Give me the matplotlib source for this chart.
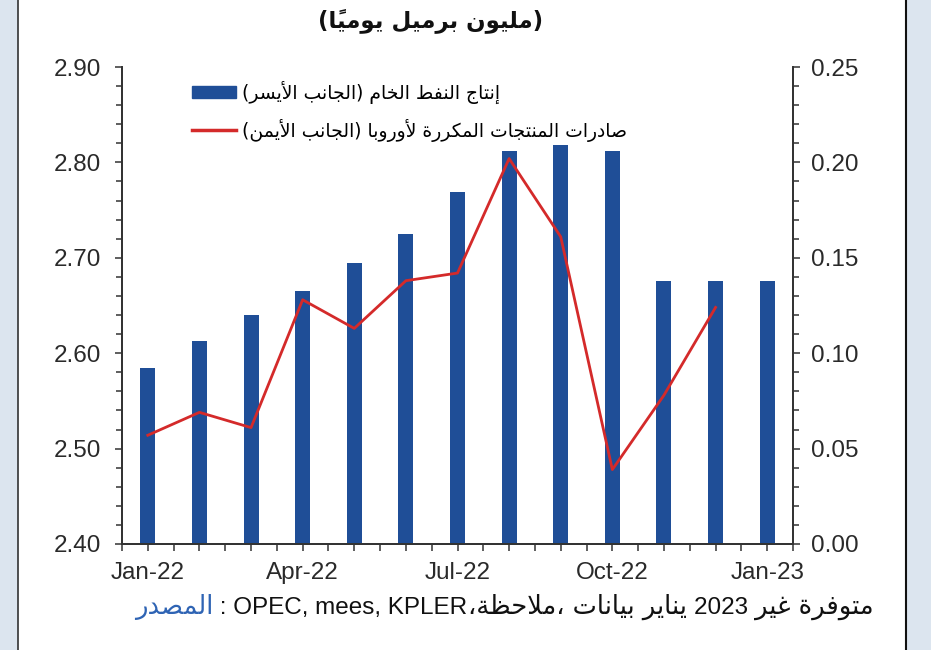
import numpy as np
import matplotlib
matplotlib.use("Agg")
import matplotlib.pyplot as plt
from matplotlib.patches import Rectangle
from matplotlib.lines import Line2D
from matplotlib.ticker import MultipleLocator
from matplotlib.font_manager import FontProperties

# ---------------- data ----------------
months = ["Jan-22", "Feb-22", "Mar-22", "Apr-22", "May-22", "Jun-22", "Jul-22",
          "Aug-22", "Sep-22", "Oct-22", "Nov-22", "Dec-22", "Jan-23"]
crude_production = [2.584, 2.613, 2.640, 2.665, 2.695, 2.725, 2.769,
                    2.812, 2.818, 2.812, 2.676, 2.676, 2.676]
europe_exports = [0.057, 0.069, 0.061, 0.128, 0.113, 0.138, 0.142,
                  0.202, 0.161, 0.039, 0.078, 0.124, np.nan]
shown_month_labels = ["Jan-22", "Apr-22", "Jul-22", "Oct-22", "Jan-23"]
left_ticks = [2.40, 2.50, 2.60, 2.70, 2.80, 2.90]
right_ticks = [0.00, 0.05, 0.10, 0.15, 0.20, 0.25]

title_text = "(مليون برميل يوميا\u064b)"
legend_bar = "إنتاج النفط الخام (الجانب الأيسر)"
legend_line = "صادرات المنتجات المكررة لأوروبا (الجانب الأيمن)"
source_label = "المصدر"
source_names = "OPEC, mees, KPLER"
source_words = ["ملاحظة", "بيانات", "يناير", "غير", "متوفرة"]
source_year = "2023"

# ---------------- simple Arabic shaping (presentation forms) ----------------
_FORMS = {
    'ء': ('\uFE80',), 'آ': ('\uFE81', '\uFE82'), 'أ': ('\uFE83', '\uFE84'),
    'ؤ': ('\uFE85', '\uFE86'), 'إ': ('\uFE87', '\uFE88'),
    'ئ': ('\uFE89', '\uFE8A', '\uFE8B', '\uFE8C'), 'ا': ('\uFE8D', '\uFE8E'),
    'ب': ('\uFE8F', '\uFE90', '\uFE91', '\uFE92'), 'ة': ('\uFE93', '\uFE94'),
    'ت': ('\uFE95', '\uFE96', '\uFE97', '\uFE98'), 'ث': ('\uFE99', '\uFE9A', '\uFE9B', '\uFE9C'),
    'ج': ('\uFE9D', '\uFE9E', '\uFE9F', '\uFEA0'), 'ح': ('\uFEA1', '\uFEA2', '\uFEA3', '\uFEA4'),
    'خ': ('\uFEA5', '\uFEA6', '\uFEA7', '\uFEA8'), 'د': ('\uFEA9', '\uFEAA'),
    'ذ': ('\uFEAB', '\uFEAC'), 'ر': ('\uFEAD', '\uFEAE'), 'ز': ('\uFEAF', '\uFEB0'),
    'س': ('\uFEB1', '\uFEB2', '\uFEB3', '\uFEB4'), 'ش': ('\uFEB5', '\uFEB6', '\uFEB7', '\uFEB8'),
    'ص': ('\uFEB9', '\uFEBA', '\uFEBB', '\uFEBC'), 'ض': ('\uFEBD', '\uFEBE', '\uFEBF', '\uFEC0'),
    'ط': ('\uFEC1', '\uFEC2', '\uFEC3', '\uFEC4'), 'ظ': ('\uFEC5', '\uFEC6', '\uFEC7', '\uFEC8'),
    'ع': ('\uFEC9', '\uFECA', '\uFECB', '\uFECC'), 'غ': ('\uFECD', '\uFECE', '\uFECF', '\uFED0'),
    'ف': ('\uFED1', '\uFED2', '\uFED3', '\uFED4'), 'ق': ('\uFED5', '\uFED6', '\uFED7', '\uFED8'),
    'ك': ('\uFED9', '\uFEDA', '\uFEDB', '\uFEDC'), 'ل': ('\uFEDD', '\uFEDE', '\uFEDF', '\uFEE0'),
    'م': ('\uFEE1', '\uFEE2', '\uFEE3', '\uFEE4'), 'ن': ('\uFEE5', '\uFEE6', '\uFEE7', '\uFEE8'),
    'ه': ('\uFEE9', '\uFEEA', '\uFEEB', '\uFEEC'), 'و': ('\uFEED', '\uFEEE'),
    'ى': ('\uFEEF', '\uFEF0'), 'ي': ('\uFEF1', '\uFEF2', '\uFEF3', '\uFEF4'),
}
_LAMALEF = {'ا': ('\uFEFB', '\uFEFC'), 'أ': ('\uFEF7', '\uFEF8'),
            'إ': ('\uFEF9', '\uFEFA'), 'آ': ('\uFEF5', '\uFEF6')}
_MARKS = set(chr(c) for c in range(0x064B, 0x0653))
_MIRROR = {'(': ')', ')': '('}


def shape_rtl(text):
    toks = []
    for ch in text:
        if ch in _MARKS and toks:
            toks[-1][1] += ch
        else:
            toks.append([ch, ''])
    merged = []
    i = 0
    while i < len(toks):
        b, m = toks[i]
        if b == 'ل' and i + 1 < len(toks) and toks[i + 1][0] in _LAMALEF:
            merged.append(['LA' + toks[i + 1][0], m + toks[i + 1][1]])
            i += 2
        else:
            merged.append([b, m])
            i += 1

    def forms(b):
        if b.startswith('LA') and len(b) == 3:
            return _LAMALEF[b[2]]
        return _FORMS.get(b)

    res = []
    for k, (b, m) in enumerate(merged):
        f = forms(b)
        if f is None:
            res.append([_MIRROR.get(b, b), m])
            continue
        pf = forms(merged[k - 1][0]) if k > 0 else None
        nf = forms(merged[k + 1][0]) if k + 1 < len(merged) else None
        jp = pf is not None and len(pf) == 4 and len(f) >= 2
        jn = len(f) == 4 and nf is not None and len(nf) >= 2
        if jp and jn:
            g = f[3]
        elif jp:
            g = f[1]
        elif jn:
            g = f[2]
        else:
            g = f[0]
        res.append([g, m])
    res.reverse()
    return ''.join(g + m for g, m in res)


# ---------------- figure ----------------
W, H = 931, 650
fig = plt.figure(figsize=(W / 100, H / 100), dpi=100)
fig.patch.set_facecolor("white")

side_col = "#DCE5EF"
fig.add_artist(Rectangle((0, 0), 17 / W, 1, transform=fig.transFigure, color=side_col, zorder=0))
fig.add_artist(Rectangle((906 / W, 0), 25 / W, 1, transform=fig.transFigure, color=side_col, zorder=0))
fig.add_artist(Line2D([17.5 / W, 17.5 / W], [0, 1], transform=fig.transFigure, color="#333333", lw=1.2))
fig.add_artist(Line2D([905.5 / W, 905.5 / W], [0, 1], transform=fig.transFigure, color="#111111", lw=1.5))

ax = fig.add_axes([122 / W, 1 - 544 / H, 671 / W, 477 / H])
ax2 = ax.twinx()

x = np.arange(len(months))
bar_col = "#1F4E97"
line_col = "#D42A2A"
ax.bar(x, [v - 2.40 for v in crude_production], bottom=2.40, width=0.29, color=bar_col, zorder=2)
ax2.plot(x, europe_exports, color=line_col, lw=2.0, zorder=3)

ax.set_xlim(-0.5, len(months) - 0.5)
ax.set_ylim(2.40, 2.90)
ax2.set_ylim(0.0, 0.25)

tick_font = dict(family="Liberation Sans", size=17.5)
tick_col = "#2a2a2a"
spine_col = "#333333"
for a in (ax, ax2):
    a.spines["top"].set_visible(False)
    for s in ("left", "right", "bottom"):
        a.spines[s].set_color(spine_col)
        a.spines[s].set_linewidth(1.3)
    a.set_facecolor("none")

ax.set_yticks(left_ticks)
ax.set_yticklabels([f"{v:.2f}" for v in left_ticks], **tick_font, color=tick_col)
ax.yaxis.set_minor_locator(MultipleLocator(0.02))
ax2.set_yticks(right_ticks)
ax2.set_yticklabels([f"{v:.2f}" for v in right_ticks], **tick_font, color=tick_col)
ax2.yaxis.set_minor_locator(MultipleLocator(0.01))

xt = np.arange(-0.5, len(months), 0.5)
ax.set_xticks(xt)
lab = []
for t in xt:
    if float(t).is_integer() and months[int(t)] in shown_month_labels:
        lab.append(months[int(t)])
    else:
        lab.append("")
ax.set_xticklabels(lab, **tick_font, color=tick_col)

ax.tick_params(axis="y", which="major", direction="out", length=5, width=1.1, color=spine_col, pad=10)
ax.tick_params(axis="y", which="minor", direction="out", length=4, width=1.1, color=spine_col)
ax2.tick_params(axis="y", which="major", direction="out", length=5, width=1.1, color=spine_col, pad=8)
ax2.tick_params(axis="y", which="minor", direction="out", length=4, width=1.1, color=spine_col)
ax.tick_params(axis="x", which="major", direction="out", length=5, width=1.1, color=spine_col, pad=8)

# legend
ar_font = FontProperties(family="DejaVu Sans", size=13.5)
handles = [Rectangle((0, 0), 1, 1, color=bar_col), Line2D([], [], color=line_col, lw=2.5)]
labels = [shape_rtl(legend_bar), shape_rtl(legend_line)]
ax2.legend(handles, labels, loc="upper left", bbox_to_anchor=(70 / 671, 0.972), frameon=False,
           prop=ar_font, handlelength=2.35, handletextpad=0.3, labelspacing=0.8,
           borderpad=0, borderaxespad=0, handleheight=0.6)

# title
fig.text(431 / W, 1 - 22 / H, shape_rtl(title_text), ha="center", va="center",
         family="DejaVu Sans", fontsize=16.5, fontweight="bold", color="#111111")

# source line, drawn in visual left-to-right order as in the reference
renderer = fig.canvas.get_renderer()
src_y = 1 - 614 / H
ar_size = 18.5
segments = [
    (shape_rtl(source_label), "DejaVu Sans", ar_size, "#2F64B4"),
    (" : " + source_names, "Liberation Sans", 17.5, "#111111"),
    ("\u060c" + shape_rtl(source_words[0]) + "\u060c " + shape_rtl(source_words[1]) + " " +
     shape_rtl(source_words[2]) + " ", "DejaVu Sans", ar_size, "#111111"),
    (source_year + " ", "Liberation Sans", 17.5, "#111111"),
    (shape_rtl(source_words[3]) + " " + shape_rtl(source_words[4]), "DejaVu Sans", ar_size, "#111111"),
]
xpos = 135
for txt, fam, size, col in segments:
    t = fig.text(xpos / W, src_y, txt, ha="left", va="baseline",
                 family=fam, fontsize=size, color=col)
    xpos = t.get_window_extent(renderer).x1

fig.savefig("out.png", dpi=100)
